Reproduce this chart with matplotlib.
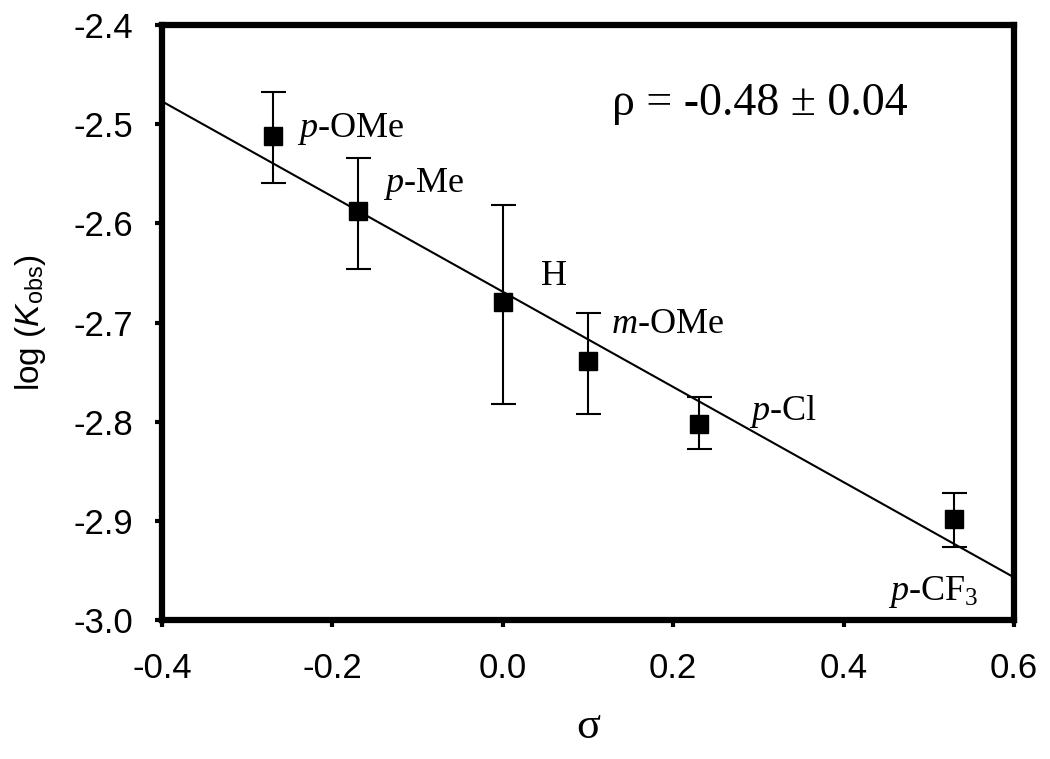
import matplotlib
matplotlib.use("Agg")
import matplotlib.pyplot as plt
import numpy as np

# --- data ---
sigma = [-0.27, -0.17, 0.0, 0.10, 0.23, 0.53]
log_k = [-2.512, -2.588, -2.679, -2.739, -2.802, -2.898]
err_hi = [-2.468, -2.534, -2.582, -2.690, -2.775, -2.872]
err_lo = [-2.559, -2.646, -2.782, -2.792, -2.828, -2.926]
labels = [r"$\mathit{p}$-OMe", r"$\mathit{p}$-Me", "H", r"$\mathit{m}$-OMe",
          r"$\mathit{p}$-Cl", r"$\mathit{p}$-CF$_3$"]
label_x = [-0.242, -0.141, 0.045, 0.127, 0.289, 0.452]
label_y = [-2.505, -2.560, -2.654, -2.702, -2.790, -2.972]

# Hammett fit
rho = -0.48
intercept = -2.669
fit_x = [-0.4, 0.6]

# fonts: serif (Times-like) for annotations, sans for ticks
plt.rcParams["font.family"] = ["Liberation Sans", "DejaVu Sans"]
plt.rcParams["mathtext.fontset"] = "custom"
plt.rcParams["mathtext.rm"] = "Liberation Serif"
plt.rcParams["mathtext.it"] = "Liberation Serif:italic"
plt.rcParams["mathtext.sf"] = "Liberation Sans"
plt.rcParams["mathtext.cal"] = "Liberation Sans:italic"

fig = plt.figure(figsize=(10.5, 7.59), dpi=100)
ax = fig.add_axes([162 / 1050, 1 - 620 / 759, 852 / 1050, 595 / 759])

lo = np.array(log_k) - np.array(err_lo)
hi = np.array(err_hi) - np.array(log_k)
ax.errorbar(sigma, log_k, yerr=[lo, hi], fmt="none", ecolor="black",
            elinewidth=1.5, capsize=9, capthick=1.5, zorder=2)
ax.plot(fit_x, [intercept + rho * x for x in fit_x], color="black", lw=1.5, zorder=3)
ax.plot(sigma, log_k, ls="none", marker="s", ms=13, color="black", zorder=4)

for lx, ly, txt in zip(label_x, label_y, labels):
    ax.text(lx, ly, txt, fontsize=26, family="Liberation Serif", ha="left", va="center")

ax.text(0.128, -2.479, "ρ = -0.48 ± 0.04", fontsize=33, family="Liberation Serif",
        ha="left", va="center")

ax.set_xlim(-0.4, 0.6)
ax.set_ylim(-3.0, -2.4)
ax.set_xticks(np.arange(-0.4, 0.61, 0.2))
ax.set_yticks(np.arange(-3.0, -2.39, 0.1))
ax.set_xticklabels(["-0.4", "-0.2", "0.0", "0.2", "0.4", "0.6"])
ax.set_yticklabels(["-3.0", "-2.9", "-2.8", "-2.7", "-2.6", "-2.5", "-2.4"])
ax.tick_params(labelsize=25, direction="out", length=5, width=3)
ax.tick_params(axis="x", pad=18)
ax.tick_params(axis="y", pad=16)
for s in ax.spines.values():
    s.set_linewidth(4.5)

ax.set_xlabel("σ", fontsize=32, family="Liberation Serif", labelpad=16)
ax.set_ylabel(r"log ($\mathcal{K}_{\mathsf{obs}}$)", fontsize=24, labelpad=18)

fig.savefig("out.png", dpi=100)
